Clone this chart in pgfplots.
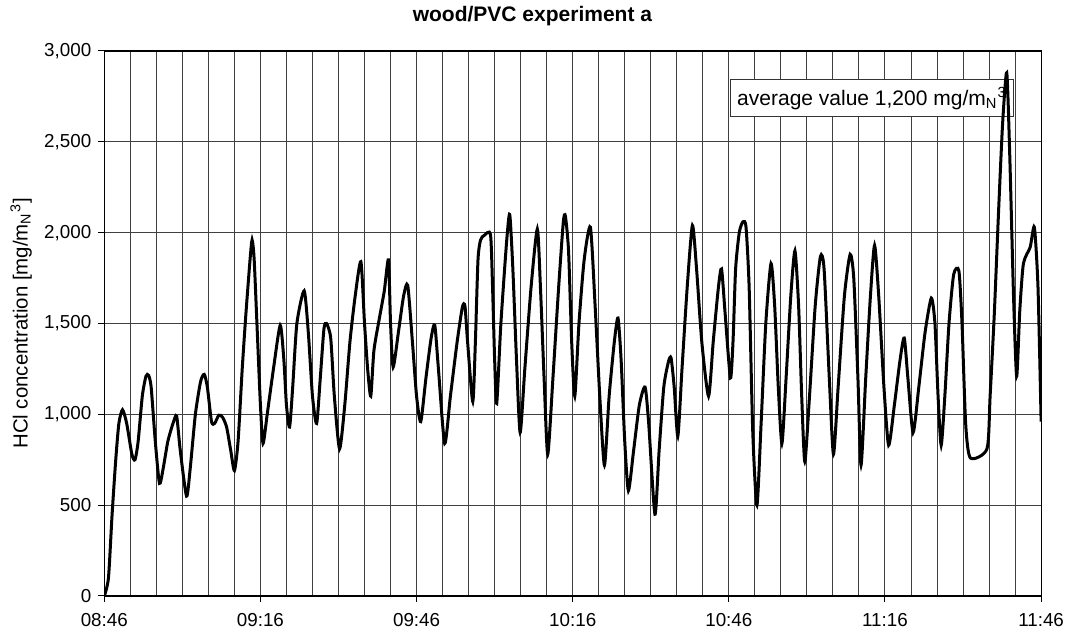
\documentclass[border=0pt]{standalone}
\usepackage{fontspec}
\setmainfont{Liberation Sans}
\usepackage{pgfplots}
\pgfplotsset{compat=1.18}
\begin{document}
\begin{tikzpicture}
\useasboundingbox (-52.15pt,-19.5pt) rectangle (481.85pt,298pt);
\begin{axis}[
  at={(0pt,0pt)}, anchor=south west,
  scale only axis, width=468.4pt, height=272.5pt,
  xmin=0, xmax=180, ymin=0, ymax=3000,
  xtick={0,30,...,180},
  xticklabels={08:46,09:16,09:46,10:16,10:46,11:16,11:46},
  minor x tick num=5,
  ytick={0,500,...,3000},
  tick pos=left, tick align=outside,
  major tick length=3pt, minor tick length=0pt,
  every tick/.style={black, line width=0.5pt},
  grid=both,
  major grid style={draw=black!75, line width=0.5pt},
  minor grid style={draw=black!75, line width=0.5pt},
  axis line style={black, line width=0.6pt},
  /pgf/number format/.cd, 1000 sep={,}, assume math mode=true,
  /pgfplots/.cd,
  tick label style={font=\fontsize{9.4}{10}\selectfont},
  xticklabel style={yshift=-2pt},
  ylabel={HCl concentration [mg/m\textsubscript{N}\textsuperscript{3}]},
  ylabel style={at={(axis description cs:-0.0887,0.5)}, anchor=center, font=\fontsize{10.2}{11}\selectfont},
  title={\bfseries wood/PVC experiment a},
  every axis title/.style={at={(axis description cs:0.457,1.064)}, anchor=center, font=\fontsize{10.5}{12}\selectfont},
]
\node[draw=black!80, line width=0.5pt, fill=white, inner sep=3.5pt, font=\fontsize{10.5}{12}\selectfont]
  at (axis cs:147.5,2740) {average value 1,200 mg/m\textsubscript{N}\textsuperscript{3}};
\addplot[black, line width=1.5pt, smooth, tension=0.4] coordinates {
(0,0) (0.8,100) (1.5,450) (2.2,750) (2.8,950) (3.5,1025) (4.3,950) (5.3,780) (5.9,750)
(6.5,850) (7.3,1100) (8.0,1210) (8.5,1215) (9.0,1150) (9.8,850) (10.6,620) (11.3,700)
(12.2,850) (13.2,950) (13.9,990) (14.6,800) (15.8,550) (16.5,700) (17.5,1000) (18.5,1180)
(19.2,1220) (19.8,1150) (20.6,960) (21.2,950) (22.0,995) (22.7,985) (23.5,930) (24.3,800)
(25.0,690) (25.7,850) (26.5,1250) (27.2,1550) (28.0,1850) (28.4,1960) (28.8,1850) (29.4,1450)
(30.0,1050) (30.5,840) (31.3,1000) (32.5,1250) (33.8,1490) (34.5,1300) (35.0,1050) (35.6,930)
(36.2,1150) (37.0,1500) (38.4,1680) (39.2,1450) (40.0,1100) (40.8,950) (41.5,1200) (42.2,1470)
(42.7,1500) (43.5,1420) (44.2,1100) (45.2,810) (46.2,1050) (47.2,1400) (48.2,1650) (49.3,1840)
(50.0,1500) (50.6,1250) (51.2,1100) (51.8,1350) (52.8,1520) (53.8,1680) (54.6,1850) (55.0,1500)
(55.5,1260) (56.5,1450) (57.5,1650) (58.3,1710) (59.2,1400) (60.0,1100) (60.8,960) (61.8,1200)
(62.8,1420) (63.5,1490) (64.2,1250) (65.4,840) (66.5,1100) (67.8,1400) (68.8,1590) (69.3,1595)
(69.8,1400) (70.8,1070) (71.3,1400) (71.8,1850) (72.3,1960) (73.0,1985) (74.2,1990) (74.6,1700)
(75.0,1300) (75.4,1060) (76.2,1500) (77.3,1950) (77.9,2100) (78.5,1800) (79.2,1300) (79.9,900)
(80.8,1250) (82.0,1700) (83.2,2020) (83.8,1700) (84.5,1200) (85.2,780) (86.2,1200) (87.3,1700)
(88.2,2060) (88.6,2090) (89.2,1900) (89.8,1400) (90.4,1100) (91.2,1500) (92.2,1850) (93.4,2030)
(94.3,1600) (95.2,1100) (96.1,720) (97.0,1100) (98.0,1400) (98.7,1530) (99.3,1300) (100.0,850)
(100.7,580) (101.7,800) (102.8,1050) (103.9,1150) (104.6,950) (105.8,450) (106.6,800) (107.5,1150)
(108.4,1290) (108.9,1310) (109.5,1150) (110.2,880) (111.0,1250) (112.0,1700) (113.0,2040) (113.8,1800)
(114.8,1400) (116.1,1100) (117.0,1400) (118.0,1700) (118.6,1800) (119.3,1550) (120.3,1200) (120.8,1400)
(121.3,1800) (122.0,2000) (122.7,2060) (123.3,2030) (123.9,1700) (124.6,900) (125.4,500) (126.2,950)
(127.1,1500) (128.1,1830) (128.8,1600) (129.5,1150) (130.2,840) (131.0,1200) (131.9,1650) (132.7,1900)
(133.4,1600) (134.0,1100) (134.6,740) (135.5,1100) (136.6,1600) (137.6,1870) (138.3,1800) (139.3,1200)
(140.1,780) (141.0,1150) (142.2,1650) (143.3,1880) (144.0,1750) (144.8,1200) (145.4,720) (146.3,1200)
(147.2,1650) (148.0,1930) (148.8,1650) (149.8,1150) (150.7,830) (151.8,1050) (152.9,1300) (153.7,1420)
(154.4,1200) (155.4,900) (156.5,1150) (157.7,1450) (158.9,1640) (159.6,1500) (160.2,1100) (160.8,830)
(161.5,1100) (162.3,1500) (163.2,1770) (164.2,1790) (164.8,1500) (165.5,950) (166.4,760) (169.6,810)
(170.2,1100) (171.0,1550) (171.8,2100) (172.6,2600) (173.4,2880) (174.0,2400) (174.7,1650) (175.3,1210)
(175.9,1570) (176.6,1830) (177.9,1920) (178.7,2030) (179.4,1700) (180.0,960)
};
\end{axis}
\end{tikzpicture}
\end{document}
